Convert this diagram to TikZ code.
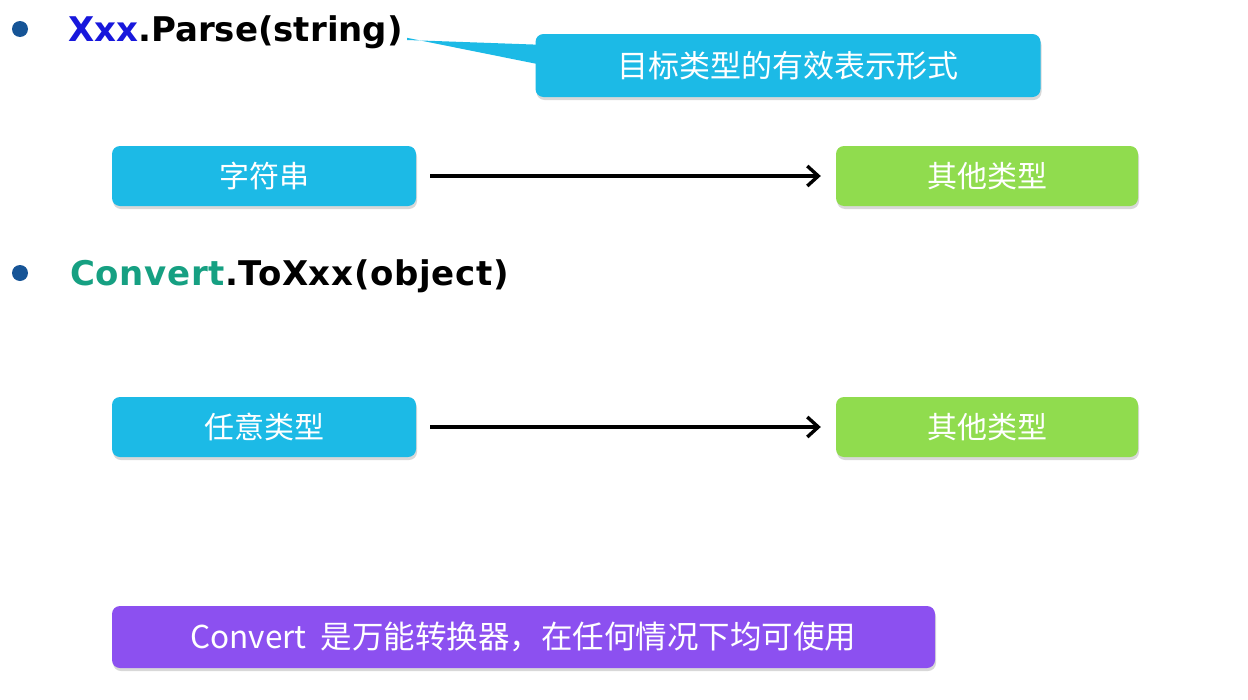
\documentclass[tikz,border=0pt]{standalone}
\usepackage{fontspec}
\setmainfont{DejaVu Sans}
\newfontfamily\cjk{Noto Sans CJK SC}
\usetikzlibrary{arrows.meta,shadows}
\definecolor{boxcyan}{RGB}{28,186,230}
\definecolor{boxgreen}{RGB}{144,220,78}
\definecolor{boxpurple}{RGB}{140,80,240}
\definecolor{bulletblue}{RGB}{22,84,150}
\definecolor{xxxblue}{RGB}{24,24,220}
\definecolor{convteal}{RGB}{22,160,130}
\tikzset{
  box/.style={rounded corners=8pt, text=white, font=\cjk\fontsize{30}{36}\selectfont,
    drop shadow={shadow xshift=1pt, shadow yshift=-3pt, opacity=0.3}, inner sep=0pt},
  cyanbox/.style={box, fill=boxcyan, minimum width=304pt, minimum height=60pt},
  greenbox/.style={box, fill=boxgreen, minimum width=302pt, minimum height=60pt},
  heading/.style={anchor=base west, font=\bfseries\fontsize{34}{38}\selectfont, inner sep=0pt},
  arr/.style={-{Straight Barb[length=11pt,width=20pt,line width=3.4pt]}, line width=3.4pt, black}
}
\begin{document}
\begin{tikzpicture}[x=1pt,y=-1pt]
\useasboundingbox[fill=white] (0,0) rectangle (1248,699);
% headings
\coordinate (bul1) at (20,29);
\fill[bulletblue] (bul1) circle[radius=8pt];
\node[heading] (h1) at (68,41) {\textcolor{xxxblue}{Xxx}.Parse(string)};
\coordinate (bul2) at (20,273);
\fill[bulletblue] (bul2) circle[radius=8pt];
\node[heading] (h2) at (70,285) {\addfontfeature{LetterSpace=2}\textcolor{convteal}{Convert}.ToXxx(object)};
% callout
\node[box, fill=boxcyan, minimum width=505pt, minimum height=63pt, font=\cjk\fontsize{31}{38}\selectfont] (call) at (788,65.5) {目标类型的有效表示形式};
\coordinate (tip) at (407,39);
\fill[boxcyan] ([yshift=-1pt]tip) -- ([xshift=6pt,yshift=-11pt]call.north west) -- ([xshift=6pt,yshift=-31pt]call.north west) -- ([yshift=1.2pt]tip) -- cycle;
% row 1
\node[cyanbox] (s1) at (264,176) {字符串};
\node[greenbox] (o1) at (987,176) {其他类型};
\draw[arr] ([xshift=14pt]s1.east) -- ([xshift=-15pt]o1.west);
% row 2
\node[cyanbox] (s2) at (264,427) {任意类型};
\node[greenbox] (o2) at (987,427) {其他类型};
\draw[arr] ([xshift=14pt]s2.east) -- ([xshift=-15pt]o2.west);
% note
\node[box, fill=boxpurple, minimum width=823pt, minimum height=62pt, font=\cjk\fontsize{31.5}{36}\selectfont] (note) at (523.5,637) {Convert\ \ 是万能转换器，在任何情况下均可使用};
\end{tikzpicture}
\end{document}
